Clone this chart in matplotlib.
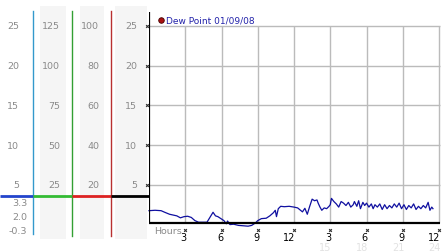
import matplotlib
matplotlib.use("Agg")
import matplotlib.pyplot as plt
from matplotlib.patches import Rectangle

# dew point readings, hours from midnight / deg C
hours = [0.0, 0.5, 1.0, 1.3, 1.7, 2.0, 2.3, 2.6, 2.9, 3.2, 3.5, 3.8, 4.1, 4.4, 4.8,
         5.0, 5.3, 5.5, 5.7, 6.0, 6.2, 6.4, 6.5, 6.7, 7.0, 7.4, 7.8, 8.2, 8.5, 8.8,
         9.0, 9.3, 9.7, 10.0, 10.3, 10.45, 10.55, 10.7, 10.9, 11.2, 11.6, 12.0, 12.3,
         12.5, 12.7, 12.9, 13.1, 13.3, 13.5, 13.7, 13.9, 14.0, 14.15, 14.3, 14.5, 14.7,
         14.9, 15.0, 15.1, 15.3, 15.5, 15.7, 15.9, 16.1, 16.3, 16.5, 16.7, 16.9, 17.0,
         17.2, 17.35, 17.5, 17.7, 17.85, 18.0, 18.2, 18.4, 18.55, 18.7, 18.9, 19.1,
         19.3, 19.5, 19.7, 19.9, 20.1, 20.3, 20.5, 20.7, 20.9, 21.1, 21.3, 21.5, 21.7,
         21.9, 22.1, 22.3, 22.5, 22.7, 22.9, 23.1, 23.25, 23.4, 23.5]
dew = [1.75, 1.8, 1.75, 1.55, 1.3, 1.2, 1.1, 0.85, 1.0, 1.05, 0.9, 0.5, 0.3, 0.3, 0.3,
       0.8, 1.55, 1.1, 1.0, 0.7, 0.5, 0.1, 0.45, 0.0, 0.05, -0.1, -0.15, -0.2, -0.1, 0.2,
       0.5, 0.75, 0.8, 1.1, 1.5, 1.8, 1.0, 2.0, 2.3, 2.25, 2.3, 2.2, 2.1,
       1.85, 1.6, 2.05, 1.3, 2.3, 3.2, 3.0, 3.1, 2.7, 2.2, 1.8, 2.1, 2.0,
       2.3, 2.5, 3.3, 2.9, 2.6, 2.2, 2.9, 2.7, 2.4, 2.8, 2.2, 2.5, 2.9,
       2.3, 3.0, 2.0, 2.8, 2.4, 2.7, 2.2, 2.6, 2.0, 2.5, 2.2, 2.6,
       1.9, 2.5, 2.0, 2.4, 2.1, 2.6, 2.2, 2.7, 2.0, 2.5, 1.9, 2.4, 2.1,
       2.6, 1.9, 2.3, 2.0, 2.4, 2.1, 2.8, 1.8, 2.2, 2.0]

grid_y = [5, 10, 15, 20, 25]
scale_a = ["5", "10", "15", "20", "25"]
scale_b = ["25", "50", "75", "100", "125"]
scale_c = ["20", "40", "60", "80", "100"]
low_labels = ["3.3", "2.0", "-0.3"]
tick_hours = [3, 6, 9, 12, 15, 18, 21, 24]
tick_top = ["3", "6", "9", "12", "3", "6", "9", "12"]
tick_low = ["15", "18", "21", "24"]

W, H = 442, 253
fig = plt.figure(figsize=(W / 100, H / 100), dpi=100)
ppu = 7.95          # pixels per degree
pph = 290 / 24.0    # pixels per hour


def yv(px):
    return 0.2 + (224 - px) / ppu


ylo, yhi = yv(H), yv(0)
gray = "#8a8a8a"
fs = 6.8

# left scale panel
lax = fig.add_axes([0, 0, 149 / W, 1])
lax.set_xlim(0, 149)
lax.set_ylim(ylo, yhi)
lax.axis("off")
for x0, x1 in [(40, 66), (80, 104), (115, 147)]:
    lax.add_patch(Rectangle((x0, yv(240)), x1 - x0, yv(7) - yv(240),
                            color="#f5f5f5", lw=0))
for x, c, bot in [(33, "#3399cc", 235), (72, "#33a033", 237), (111, "#b83030", 237)]:
    lax.plot([x, x], [yv(bot), yv(12)], color=c, lw=1)
for x0, x1, c in [(0, 33, "#2244cc"), (33, 72, "#33bb33"), (72, 111, "#dd2222"), (111, 149, "black")]:
    lax.plot([x0, x1], [yv(197), yv(197)], color=c, lw=2, solid_capstyle="butt")
for v, a, b, c in zip(grid_y, scale_a, scale_b, scale_c):
    lax.text(19, v, a, ha="right", va="center", fontsize=fs, color=gray)
    lax.text(60, v, b, ha="right", va="center", fontsize=fs, color=gray)
    lax.text(99, v, c, ha="right", va="center", fontsize=fs, color=gray)
    lax.text(137, v, a, ha="right", va="center", fontsize=fs, color=gray)
    lax.plot(147, v, marker="x", ms=2, mew=0.8, color="#333333")
for px, t in zip([204, 218, 232], low_labels):
    lax.text(27, yv(px), t, ha="right", va="center", fontsize=fs, color=gray)

# main plot
ax = fig.add_axes([149 / W, 0, 1 - 149 / W, 1])
ax.set_xlim(0, (W - 149) / pph)
ax.set_ylim(ylo, yhi)
ax.axis("off")
ax.hlines(grid_y, 0, 24.1, color="#bbbbbb", lw=1)
ax.vlines(tick_hours, 0.2, 25, color="#bbbbbb", lw=1)
ax.plot(hours, dew, color="#1010a0", lw=0.9, clip_on=False)
ax.plot([0, 0], [0.2, yv(13)], color="black", lw=1.6, solid_capstyle="butt")
ax.plot([0, 24.1], [0.2, 0.2], color="black", lw=1.6, solid_capstyle="butt")

for h, t in zip(tick_hours, tick_top):
    ax.plot(h, yv(231), marker="x", ms=2, mew=0.8, color="#333333")
    ax.text(h + 1.5 / pph, yv(238.5), t, ha="right", va="center", fontsize=7, color="black")
for h, t in zip(tick_hours[4:], tick_low):
    ax.text(h + 1.5 / pph, yv(248), t, ha="right", va="center", fontsize=7, color="#e2e2e2")
ax.text(5 / pph, yv(232), "Hours", ha="left", va="center", fontsize=fs, color=gray)

ax.plot(12 / pph, yv(21), "o", color="#aa1111", mec="#440000", ms=4, mew=0.6)
ax.text(17 / pph, yv(21), "Dew Point 01/09/08", ha="left", va="center",
        fontsize=6.5, color="#2222aa")

fig.savefig("out.png", dpi=100)
